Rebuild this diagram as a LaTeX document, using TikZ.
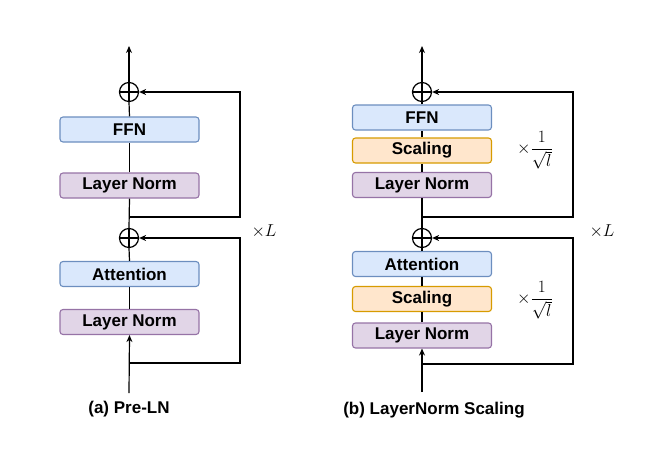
\documentclass[tikz,border=0pt]{standalone}
\usepackage[no-math]{fontspec}
\newfontfamily\hv{Liberation Sans}
\usetikzlibrary{arrows.meta}
\definecolor{bfill}{HTML}{DAE8FC}\definecolor{bdraw}{HTML}{6C8EBF}
\definecolor{pfill}{HTML}{E1D5E7}\definecolor{pdraw}{HTML}{9673A6}
\definecolor{ofill}{HTML}{FFE6CC}\definecolor{odraw}{HTML}{D79B00}
\begin{document}
\begin{tikzpicture}[x=1pt,y=-1pt,
  box/.style={draw, rounded corners=3pt, minimum width=139pt, minimum height=25pt,
    line width=1.1pt, inner sep=0pt, font=\hv\bfseries\fontsize{17}{19}\selectfont},
  bluebox/.style={box, fill=bfill, draw=bdraw},
  purplebox/.style={box, fill=pfill, draw=pdraw},
  orangebox/.style={box, fill=ofill, draw=odraw},
  addop/.style={circle, draw, line width=1.2pt, minimum size=19pt, inner sep=0pt},
  ln/.style={line width=1.2pt},
  arr/.style={ln, -{Stealth[length=7pt,width=6pt]}},
  caption/.style={font=\hv\bfseries\fontsize{17}{19}\selectfont},
  mathlbl/.style={font=\fontsize{17}{20}\selectfont}]
\useasboundingbox (0,0) rectangle (650,455);
% ---------- (a) Pre-LN ----------
\node[addop] (pa1) at (129,92) {};
\node[bluebox] (ffna) at (129.5,129.5) {FFN};
\node[purplebox] (lna1) at (129.5,185.5) {Layer Norm};
\node[addop] (pa2) at (129,238) {};
\node[bluebox] (atta) at (129.5,274) {Attention};
\node[purplebox] (lna2) at (129.5,322) {Layer Norm};
\coordinate (ina) at (129,393);
\coordinate (outa) at (129,46);
\coordinate (ra1) at (129,217);
\coordinate (ra2) at (129,363);
\foreach \p in {pa1,pa2}{\draw[ln] (\p.north)--(\p.south) (\p.west)--(\p.east);}
\draw[arr] (ina) -- (lna2.south);
\draw[ln] (lna2.north) -- (atta.south);
\draw[ln] (atta.north) -- (pa2.south);
\draw[ln] (pa2.north) -- (lna1.south);
\draw[ln] (lna1.north) -- (ffna.south);
\draw[ln] (ffna.north) -- (pa1.south);
\draw[arr] (pa1.north) -- (outa);
\draw[arr] (ra1) -- ++(111,0) |- (pa1.east);
\draw[arr] (ra2) -- ++(111,0) |- (pa2.east);
\node[mathlbl] (La) at (264,231) {$\times L$};
\node[caption] (capa) at (129,409) {(a) Pre-LN};
% ---------- (b) LayerNorm Scaling ----------
\node[addop] (pb1) at (422,92) {};
\node[bluebox] (ffnb) at (422,117.5) {FFN};
\node[orangebox] (scb1) at (422,150.5) {Scaling};
\node[purplebox] (lnb1) at (422,185) {Layer Norm};
\node[addop] (pb2) at (422,238) {};
\node[bluebox] (attb) at (422,264) {Attention};
\node[orangebox] (scb2) at (422,299) {Scaling};
\node[purplebox] (lnb2) at (422,335.5) {Layer Norm};
\coordinate (inb) at (422,392);
\coordinate (outb) at (422,46);
\coordinate (rb1) at (422,217);
\coordinate (rb2) at (422,364);
\foreach \p in {pb1,pb2}{\draw[ln] (\p.north)--(\p.south) (\p.west)--(\p.east);}
\draw[arr] (inb) -- (lnb2.south);
\draw[ln] (lnb2.north) -- (scb2.south);
\draw[ln] (scb2.north) -- (attb.south);
\draw[ln] (attb.north) -- (pb2.south);
\draw[ln] (pb2.north) -- (lnb1.south);
\draw[ln] (lnb1.north) -- (scb1.south);
\draw[ln] (scb1.north) -- (ffnb.south);
\draw[ln] (ffnb.north) -- (pb1.south);
\draw[arr] (pb1.north) -- (outb);
\draw[arr] (rb1) -- ++(151,0) |- (pb1.east);
\draw[arr] (rb2) -- ++(151,0) |- (pb2.east);
\node[mathlbl] (sfb1) at (535,150) {$\displaystyle\times\frac{1}{\sqrt{l}}$};
\node[mathlbl] (sfb2) at (535,300) {$\displaystyle\times\frac{1}{\sqrt{l}}$};
\node[mathlbl] (Lb) at (602,231) {$\times L$};
\node[caption] (capb) at (434,410) {(b) LayerNorm Scaling};
\end{tikzpicture}
\end{document}
